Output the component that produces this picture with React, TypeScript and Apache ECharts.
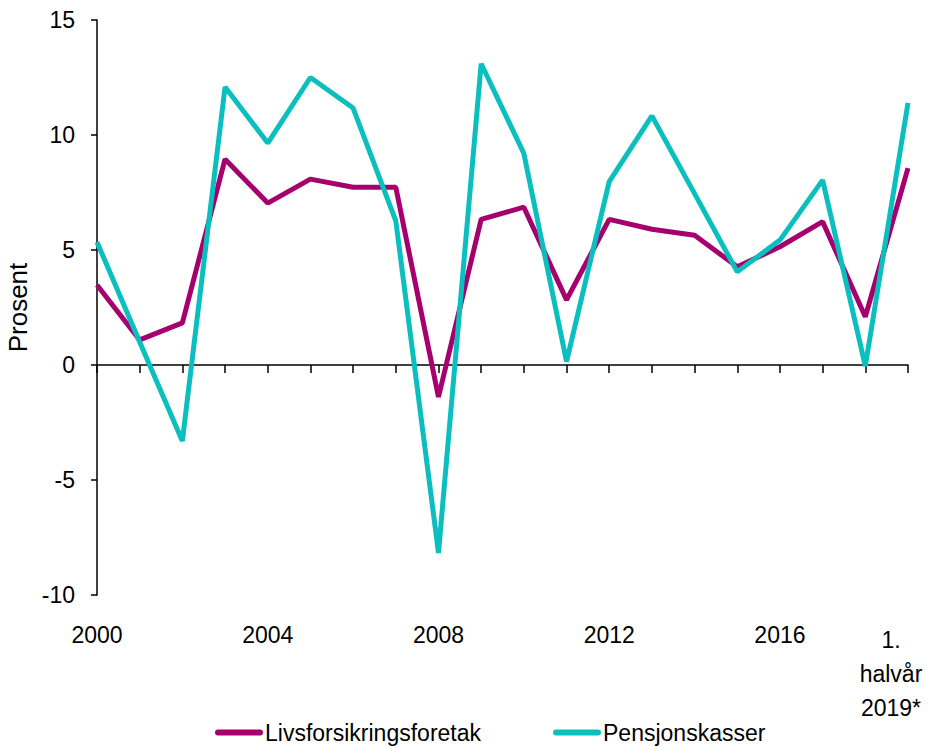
import React, { useEffect, useRef } from "react";
import * as echarts from "echarts";

const categories = [
  "2000", "2001", "2002", "2003", "2004", "2005", "2006", "2007", "2008", "2009",
  "2010", "2011", "2012", "2013", "2014", "2015", "2016", "2017", "2018", "1. halvår 2019*",
];
const livsforsikring = [
  3.48, 1.09, 1.83, 8.95, 7.04, 8.08, 7.73, 7.73, -1.39, 6.33,
  6.86, 2.83, 6.33, 5.9, 5.64, 4.27, 5.14, 6.23, 2.1, 8.56,
];
const pensjonskasser = [
  5.35, 1.0, -3.3, 12.09, 9.65, 12.5, 11.17, 6.27, -8.17, 13.1,
  9.2, 0.15, 7.97, 10.83, 7.45, 4.05, 5.43, 8.04, -0.05, 11.4,
];
const seriesNames = ["Livsforsikringsforetak", "Pensjonskasser"];
const yMin = -10;
const yMax = 15;
const yStep = 5;

const FONT = "'Liberation Sans', Arial, sans-serif";
const FS = 23;
const MAGENTA = "#A6006E";
const TEAL = "#0BBFBF";
const LEGEND_ICON = "path://M3,0 H45 A3,3 0 0 1 45,6 H3 A3,3 0 0 1 3,0 Z";

export default function App() {
  const ref = useRef<HTMLDivElement>(null);
  useEffect(() => {
    if (!ref.current) return;
    const chart = echarts.init(ref.current, undefined, { renderer: "svg" });
    const lastIdx = categories.length - 1;
    chart.setOption({
      animation: false,
      backgroundColor: "#ffffff",
      grid: { left: 97, right: 20, top: 20, bottom: 152, containLabel: false, outerBoundsMode: "none" },
      legend: {
        data: seriesNames.map((n) => ({ name: n, icon: LEGEND_ICON })),
        left: 210,
        bottom: -2,
        itemWidth: 48,
        itemHeight: 6,
        itemGap: 72,
        textStyle: { fontFamily: FONT, fontSize: FS, color: "#000", padding: [0, 0, 0, -3] },
      },
      xAxis: [
        {
          type: "category",
          data: categories,
          boundaryGap: false,
          axisLine: { onZero: true, lineStyle: { color: "#000", width: 1.5 } },
          axisTick: { show: true, interval: 0, length: 8, lineStyle: { color: "#000", width: 1.5 } },
          axisLabel: { show: false },
          splitLine: { show: false },
        },
        {
          type: "category",
          data: categories,
          boundaryGap: false,
          position: "bottom",
          axisLine: { show: false, onZero: false },
          axisTick: { show: false },
          splitLine: { show: false },
          axisLabel: {
            show: true,
            interval: (idx: number) => idx % 4 === 0 || idx === lastIdx,
            margin: 28,
            fontFamily: FONT,
            fontSize: FS,
            color: "#000",
            formatter: (value: string, idx: number) =>
              idx === lastIdx ? "{l|1.}\n{l|halvår}\n{l|2019*}" : value,
            rich: {
              l: {
                fontFamily: FONT,
                fontSize: FS,
                color: "#000",
                lineHeight: 34,
                align: "center",
                padding: [0, 34, 0, 0],
              },
            },
          },
        },
      ],
      yAxis: {
        type: "value",
        min: yMin,
        max: yMax,
        interval: yStep,
        name: "Prosent",
        nameLocation: "middle",
        nameGap: 57,
        nameRotate: 90,
        nameTextStyle: { fontFamily: FONT, fontSize: 26, color: "#000" },
        axisLine: { show: true, lineStyle: { color: "#000", width: 1.5 } },
        axisTick: { show: true, length: 6, lineStyle: { color: "#000", width: 1.5 } },
        axisLabel: { margin: 22, fontFamily: FONT, fontSize: FS, color: "#000" },
        splitLine: { show: false },
      },
      series: [
        {
          name: seriesNames[0],
          type: "line",
          data: livsforsikring,
          symbol: "none",
          color: MAGENTA,
          lineStyle: { color: MAGENTA, width: 5 },
          xAxisIndex: 0,
        },
        {
          name: seriesNames[1],
          type: "line",
          data: pensjonskasser,
          symbol: "none",
          color: TEAL,
          lineStyle: { color: TEAL, width: 5 },
          xAxisIndex: 0,
        },
      ],
    });
    return () => chart.dispose();
  }, []);
  return (
    <div
      ref={ref}
      style={{ position: "fixed", left: 0, top: 0, width: 928, height: 747, background: "#fff" }}
    />
  );
}
